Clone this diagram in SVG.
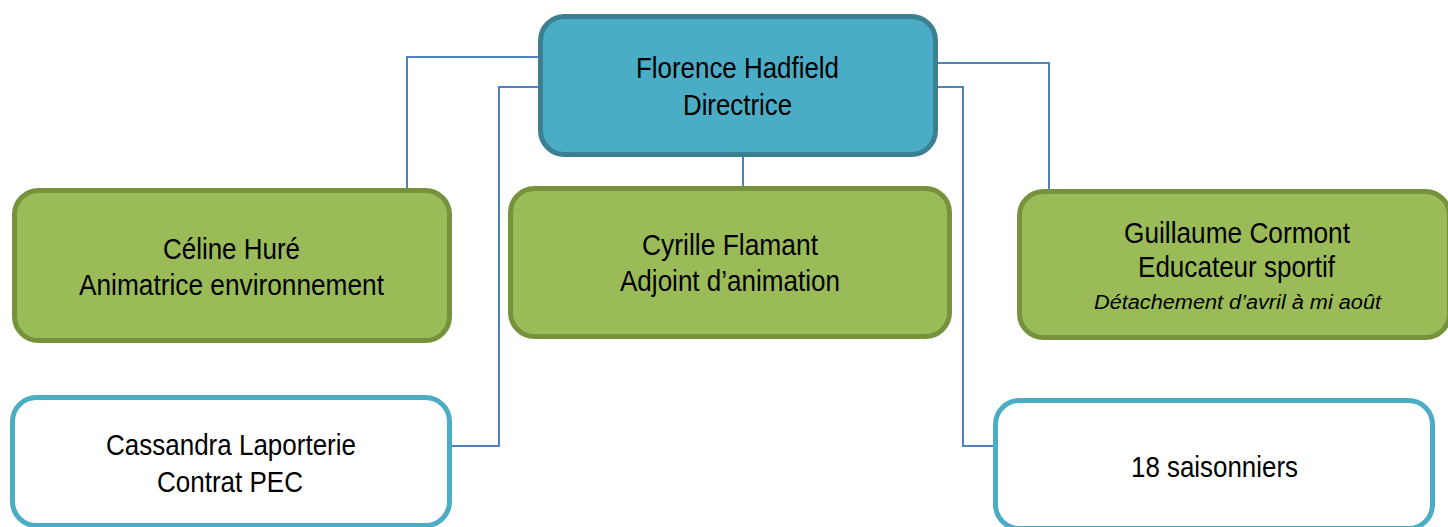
<svg xmlns="http://www.w3.org/2000/svg" width="1448" height="527" viewBox="0 0 1448 527">
<style>
.t{font-family:"Liberation Sans",Arial,sans-serif;font-size:30px;fill:#000;text-anchor:middle}
.i{font-family:"Liberation Sans",Arial,sans-serif;font-size:20px;font-style:italic;fill:#000;text-anchor:middle}
.top{fill:#4bacc6;stroke:#3a7f92;stroke-width:5}
.green{fill:#9bbb59;stroke:#76923c;stroke-width:5}
.white{fill:#fff;stroke:#4bacc6;stroke-width:5}
.c{fill:none;stroke:#4f81bd;stroke-width:2}
</style>
<rect width="1448" height="527" fill="#fff"/>
<g id="connectors">
<polyline class="c" points="540,57 407,57 407,189"/>
<polyline class="c" points="540,87 499,87 499,446 452,446"/>
<polyline class="c" points="936,63 1049,63 1049,190"/>
<polyline class="c" points="929,87 963,87 963,446 995,446"/>
<line class="c" x1="743" y1="156" x2="743" y2="187"/>
</g>
<g id="florence">
<rect class="top" x="540.5" y="16.5" width="395" height="138" rx="24"/>
<text class="t" x="737.5" y="78" textLength="203" lengthAdjust="spacingAndGlyphs">Florence Hadfield</text>
<text class="t" x="737.5" y="115" textLength="109" lengthAdjust="spacingAndGlyphs">Directrice</text>
</g>
<g id="celine">
<rect class="green" x="14.5" y="190.5" width="435" height="150" rx="24"/>
<text class="t" x="231.5" y="259" textLength="137" lengthAdjust="spacingAndGlyphs">Céline Huré</text>
<text class="t" x="231.5" y="295" textLength="305" lengthAdjust="spacingAndGlyphs">Animatrice environnement</text>
</g>
<g id="cyrille">
<rect class="green" x="510.5" y="188.5" width="439" height="148" rx="24"/>
<text class="t" x="730" y="255" textLength="176" lengthAdjust="spacingAndGlyphs">Cyrille Flamant</text>
<text class="t" x="730" y="291" textLength="220" lengthAdjust="spacingAndGlyphs">Adjoint d’animation</text>
</g>
<g id="guillaume">
<rect class="green" x="1019.5" y="191.5" width="430" height="146" rx="24"/>
<text class="t" x="1237" y="243" textLength="226" lengthAdjust="spacingAndGlyphs">Guillaume Cormont</text>
<text class="t" x="1236.5" y="277" textLength="197" lengthAdjust="spacingAndGlyphs">Educateur sportif</text>
<text class="i" x="1237.5" y="309" textLength="287" lengthAdjust="spacingAndGlyphs">Détachement d’avril à mi août</text>
</g>
<g id="cassandra">
<rect class="white" x="12.5" y="397.5" width="437" height="128" rx="24"/>
<text class="t" x="231" y="455" textLength="250" lengthAdjust="spacingAndGlyphs">Cassandra Laporterie</text>
<text class="t" x="230" y="492" textLength="146" lengthAdjust="spacingAndGlyphs">Contrat PEC</text>
</g>
<g id="saisonniers">
<rect class="white" x="995.5" y="400.5" width="437" height="128" rx="24"/>
<text class="t" x="1214.5" y="477" textLength="167" lengthAdjust="spacingAndGlyphs">18 saisonniers</text>
</g>
</svg>
